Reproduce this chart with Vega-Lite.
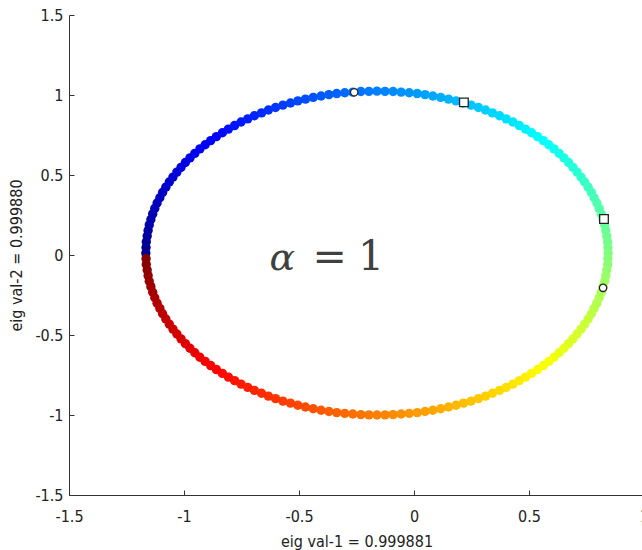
{
  "$schema": "https://vega.github.io/schema/vega-lite/v6.json",
  "width": 575,
  "height": 480,
  "autosize": {"type": "none"},
  "padding": {"left": 69, "top": 15, "right": 0, "bottom": 55},
  "background": "white",
  "config": {
    "view": {"stroke": null},
    "axis": {
      "grid": false,
      "domainColor": "#333333",
      "domainWidth": 1,
      "tickColor": "#333333",
      "tickSize": -5,
      "tickWidth": 1,
      "labelFont": "DejaVu Sans Condensed, Liberation Sans Narrow, DejaVu Sans",
      "labelFontSize": 16,
      "labelColor": "#222222",
      "titleFont": "DejaVu Sans Condensed, Liberation Sans Narrow, DejaVu Sans",
      "titleFontSize": 16,
      "titleFontWeight": "normal",
      "titleColor": "#222222",
      "labelOverlap": false,
      "labelFlush": false,
      "labelBound": false
    }
  },
  "datasets": {
    "ring": [
      {"x":-1.166,"y":0.012,"s":0},{"x":-1.165,"y":0.047,"s":2},{"x":-1.164,"y":0.083,"s":4},{"x":-1.160,"y":0.118,"s":6},{"x":-1.156,"y":0.153,"s":8},
      {"x":-1.151,"y":0.188,"s":10},{"x":-1.144,"y":0.222,"s":12},{"x":-1.136,"y":0.257,"s":14},{"x":-1.127,"y":0.291,"s":16},{"x":-1.117,"y":0.325,"s":18},
      {"x":-1.105,"y":0.358,"s":20},{"x":-1.093,"y":0.391,"s":22},{"x":-1.079,"y":0.424,"s":24},{"x":-1.064,"y":0.456,"s":26},{"x":-1.048,"y":0.487,"s":28},
      {"x":-1.031,"y":0.518,"s":30},{"x":-1.013,"y":0.548,"s":32},{"x":-0.994,"y":0.578,"s":34},{"x":-0.974,"y":0.607,"s":36},{"x":-0.953,"y":0.635,"s":38},
      {"x":-0.931,"y":0.663,"s":40},{"x":-0.908,"y":0.689,"s":42},{"x":-0.884,"y":0.715,"s":44},{"x":-0.859,"y":0.740,"s":46},{"x":-0.833,"y":0.764,"s":48},
      {"x":-0.807,"y":0.787,"s":50},{"x":-0.780,"y":0.809,"s":52},{"x":-0.752,"y":0.831,"s":54},{"x":-0.723,"y":0.851,"s":56},{"x":-0.694,"y":0.870,"s":58},
      {"x":-0.663,"y":0.888,"s":60},{"x":-0.633,"y":0.906,"s":62},{"x":-0.602,"y":0.922,"s":64},{"x":-0.570,"y":0.937,"s":66},{"x":-0.537,"y":0.950,"s":68},
      {"x":-0.505,"y":0.963,"s":70},{"x":-0.472,"y":0.974,"s":72},{"x":-0.438,"y":0.985,"s":74},{"x":-0.404,"y":0.994,"s":76},{"x":-0.370,"y":1.002,"s":78},
      {"x":-0.336,"y":1.009,"s":80},{"x":-0.301,"y":1.014,"s":82},{"x":-0.266,"y":1.018,"s":84},{"x":-0.231,"y":1.022,"s":86},{"x":-0.196,"y":1.023,"s":88},
      {"x":-0.161,"y":1.024,"s":90},{"x":-0.126,"y":1.023,"s":92},{"x":-0.091,"y":1.022,"s":94},{"x":-0.056,"y":1.018,"s":96},{"x":-0.021,"y":1.014,"s":98},
      {"x":0.014,"y":1.009,"s":100},{"x":0.048,"y":1.002,"s":102},{"x":0.082,"y":0.994,"s":104},{"x":0.116,"y":0.985,"s":106},{"x":0.150,"y":0.974,"s":108},
      {"x":0.183,"y":0.963,"s":110},{"x":0.215,"y":0.950,"s":112},{"x":0.248,"y":0.937,"s":114},{"x":0.280,"y":0.922,"s":116},{"x":0.311,"y":0.906,"s":118},
      {"x":0.341,"y":0.888,"s":120},{"x":0.372,"y":0.870,"s":122},{"x":0.401,"y":0.851,"s":124},{"x":0.430,"y":0.831,"s":126},{"x":0.458,"y":0.809,"s":128},
      {"x":0.485,"y":0.787,"s":130},{"x":0.511,"y":0.764,"s":132},{"x":0.537,"y":0.740,"s":134},{"x":0.562,"y":0.715,"s":136},{"x":0.586,"y":0.689,"s":138},
      {"x":0.609,"y":0.663,"s":140},{"x":0.631,"y":0.635,"s":142},{"x":0.652,"y":0.607,"s":144},{"x":0.672,"y":0.578,"s":146},{"x":0.691,"y":0.548,"s":148},
      {"x":0.709,"y":0.518,"s":150},{"x":0.726,"y":0.487,"s":152},{"x":0.742,"y":0.456,"s":154},{"x":0.757,"y":0.424,"s":156},{"x":0.771,"y":0.391,"s":158},
      {"x":0.783,"y":0.358,"s":160},{"x":0.795,"y":0.325,"s":162},{"x":0.805,"y":0.291,"s":164},{"x":0.814,"y":0.257,"s":166},{"x":0.822,"y":0.222,"s":168},
      {"x":0.829,"y":0.188,"s":170},{"x":0.834,"y":0.153,"s":172},{"x":0.838,"y":0.118,"s":174},{"x":0.842,"y":0.083,"s":176},{"x":0.843,"y":0.047,"s":178},
      {"x":0.844,"y":0.012,"s":180},{"x":0.843,"y":-0.023,"s":182},{"x":0.842,"y":-0.059,"s":184},{"x":0.838,"y":-0.094,"s":186},{"x":0.834,"y":-0.129,"s":188},
      {"x":0.829,"y":-0.164,"s":190},{"x":0.822,"y":-0.198,"s":192},{"x":0.814,"y":-0.233,"s":194},{"x":0.805,"y":-0.267,"s":196},{"x":0.795,"y":-0.301,"s":198},
      {"x":0.783,"y":-0.334,"s":200},{"x":0.771,"y":-0.367,"s":202},{"x":0.757,"y":-0.400,"s":204},{"x":0.742,"y":-0.432,"s":206},{"x":0.726,"y":-0.463,"s":208},
      {"x":0.709,"y":-0.494,"s":210},{"x":0.691,"y":-0.524,"s":212},{"x":0.672,"y":-0.554,"s":214},{"x":0.652,"y":-0.583,"s":216},{"x":0.631,"y":-0.611,"s":218},
      {"x":0.609,"y":-0.639,"s":220},{"x":0.586,"y":-0.665,"s":222},{"x":0.562,"y":-0.691,"s":224},{"x":0.537,"y":-0.716,"s":226},{"x":0.511,"y":-0.740,"s":228},
      {"x":0.485,"y":-0.763,"s":230},{"x":0.458,"y":-0.785,"s":232},{"x":0.430,"y":-0.807,"s":234},{"x":0.401,"y":-0.827,"s":236},{"x":0.372,"y":-0.846,"s":238},
      {"x":0.341,"y":-0.864,"s":240},{"x":0.311,"y":-0.882,"s":242},{"x":0.280,"y":-0.898,"s":244},{"x":0.248,"y":-0.913,"s":246},{"x":0.215,"y":-0.926,"s":248},
      {"x":0.183,"y":-0.939,"s":250},{"x":0.150,"y":-0.950,"s":252},{"x":0.116,"y":-0.961,"s":254},{"x":0.082,"y":-0.970,"s":256},{"x":0.048,"y":-0.978,"s":258},
      {"x":0.014,"y":-0.985,"s":260},{"x":-0.021,"y":-0.990,"s":262},{"x":-0.056,"y":-0.994,"s":264},{"x":-0.091,"y":-0.998,"s":266},{"x":-0.126,"y":-0.999,"s":268},
      {"x":-0.161,"y":-1.000,"s":270},{"x":-0.196,"y":-0.999,"s":272},{"x":-0.231,"y":-0.998,"s":274},{"x":-0.266,"y":-0.994,"s":276},{"x":-0.301,"y":-0.990,"s":278},
      {"x":-0.336,"y":-0.985,"s":280},{"x":-0.370,"y":-0.978,"s":282},{"x":-0.404,"y":-0.970,"s":284},{"x":-0.438,"y":-0.961,"s":286},{"x":-0.472,"y":-0.950,"s":288},
      {"x":-0.505,"y":-0.939,"s":290},{"x":-0.537,"y":-0.926,"s":292},{"x":-0.570,"y":-0.913,"s":294},{"x":-0.602,"y":-0.898,"s":296},{"x":-0.633,"y":-0.882,"s":298},
      {"x":-0.663,"y":-0.864,"s":300},{"x":-0.694,"y":-0.846,"s":302},{"x":-0.723,"y":-0.827,"s":304},{"x":-0.752,"y":-0.807,"s":306},{"x":-0.780,"y":-0.785,"s":308},
      {"x":-0.807,"y":-0.763,"s":310},{"x":-0.833,"y":-0.740,"s":312},{"x":-0.859,"y":-0.716,"s":314},{"x":-0.884,"y":-0.691,"s":316},{"x":-0.908,"y":-0.665,"s":318},
      {"x":-0.931,"y":-0.639,"s":320},{"x":-0.953,"y":-0.611,"s":322},{"x":-0.974,"y":-0.583,"s":324},{"x":-0.994,"y":-0.554,"s":326},{"x":-1.013,"y":-0.524,"s":328},
      {"x":-1.031,"y":-0.494,"s":330},{"x":-1.048,"y":-0.463,"s":332},{"x":-1.064,"y":-0.432,"s":334},{"x":-1.079,"y":-0.400,"s":336},{"x":-1.093,"y":-0.367,"s":338},
      {"x":-1.105,"y":-0.334,"s":340},{"x":-1.117,"y":-0.301,"s":342},{"x":-1.127,"y":-0.267,"s":344},{"x":-1.136,"y":-0.233,"s":346},{"x":-1.144,"y":-0.198,"s":348},
      {"x":-1.151,"y":-0.164,"s":350},{"x":-1.156,"y":-0.129,"s":352},{"x":-1.160,"y":-0.094,"s":354},{"x":-1.164,"y":-0.059,"s":356},{"x":-1.165,"y":-0.023,"s":358}
    ],
    "marks": [
      {"x":-0.260,"y":1.017,"m":"circle"},
      {"x":0.822,"y":-0.205,"m":"circle"},
      {"x":0.217,"y":0.954,"m":"square"},
      {"x":0.826,"y":0.225,"m":"square"}
    ],
    "italic": [{"x":-0.572,"y":-0.094,"g":"α"}],
    "plain": [{"x":-0.367,"y":-0.094,"g":"="},{"x":-0.187,"y":-0.094,"g":"1"}]
  },
  "layer": [
    {
      "data": {"name": "ring"},
      "mark": {"type": "point", "shape": "circle", "filled": true, "size": 88, "opacity": 1, "strokeWidth": 0},
      "encoding": {
        "x": {
          "field": "x", "type": "quantitative",
          "scale": {"domain": [-1.5, 1], "nice": false, "zero": false},
          "axis": {"values": [-1.5, -1, -0.5, 0, 0.5, 1], "labelExpr": "datum.value + ''", "labelPadding": 18, "title": "eig val-1 = 0.999881", "titlePadding": 9}
        },
        "y": {
          "field": "y", "type": "quantitative",
          "scale": {"domain": [-1.5, 1.5], "nice": false, "zero": false},
          "axis": {"values": [-1.5, -1, -0.5, 0, 0.5, 1, 1.5], "labelExpr": "datum.value + ''", "labelPadding": 11, "title": "eig val-2 = 0.999880", "titlePadding": 10}
        },
        "color": {
          "field": "s", "type": "quantitative",
          "scale": {"domain": [0, 45, 135, 225, 315, 360], "range": ["#00008f", "#0000ff", "#00ffff", "#ffff00", "#ff0000", "#800000"], "interpolate": "rgb"},
          "legend": null
        }
      }
    },
    {
      "data": {"name": "marks"},
      "mark": {"type": "point", "filled": false, "fill": "white", "stroke": "#222222", "strokeWidth": 1.3, "opacity": 1},
      "encoding": {
        "x": {"field": "x", "type": "quantitative"},
        "y": {"field": "y", "type": "quantitative"},
        "shape": {"field": "m", "type": "nominal", "scale": {"domain": ["circle", "square"], "range": ["circle", "square"]}, "legend": null},
        "size": {"field": "m", "type": "nominal", "scale": {"domain": ["circle", "square"], "range": [55, 75]}, "legend": null}
      }
    },
    {
      "data": {"name": "italic"},
      "mark": {"type": "text", "font": "DejaVu Serif", "fontStyle": "italic", "fontSize": 38, "color": "#404040", "align": "center", "baseline": "alphabetic"},
      "encoding": {
        "x": {"field": "x", "type": "quantitative"},
        "y": {"field": "y", "type": "quantitative"},
        "text": {"field": "g"}
      }
    },
    {
      "data": {"name": "plain"},
      "mark": {"type": "text", "font": "DejaVu Serif", "fontSize": 41, "color": "#404040", "align": "center", "baseline": "alphabetic"},
      "encoding": {
        "x": {"field": "x", "type": "quantitative"},
        "y": {"field": "y", "type": "quantitative"},
        "text": {"field": "g"}
      }
    }
  ]
}
